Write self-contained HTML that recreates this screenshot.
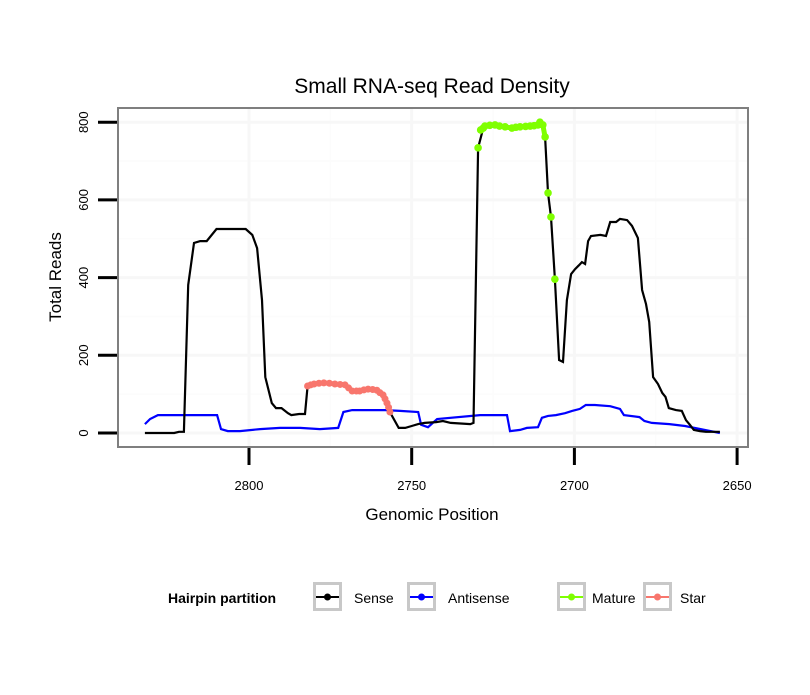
<!DOCTYPE html>
<html><head><meta charset="utf-8"><style>
body{margin:0;background:#fff;}
svg text{font-family:"Liberation Sans",sans-serif;}
</style></head><body>
<svg id="c" width="810" height="690" xmlns="http://www.w3.org/2000/svg">
<text x="432" y="93" font-size="21" text-anchor="middle">Small RNA-seq Read Density</text>
<text x="0" y="0" font-size="17" text-anchor="middle" transform="translate(61,277) rotate(-90)">Total Reads</text>
<text x="432" y="520" font-size="17" text-anchor="middle">Genomic Position</text>
<g id="grid"></g><g id="series"></g><g id="axes"></g>
<g>
<text x="168" y="603" font-size="14" font-weight="bold">Hairpin partition</text>
<g id="legend"></g>
</g>
</svg>
<script>
const senseX=[2832,2823,2821.5,2820,2818.7,2816.9,2815,2813,2810,2801,2799,2797.5,2796,2795,2793,2791.7,2790,2788,2787,2784.6,2782.8,2782,2780,2777,2773.6,2770.5,2768.3,2766,2763.4,2760.7,2758.8,2757.6,2756.7,2754,2752,2750,2748,2746,2742.5,2740.4,2738,2732,2731,2729.6,2728,2727.5,2724.4,2721.3,2719.2,2716.7,2713.6,2711.2,2710.6,2709.7,2709,2708.1,2707.2,2706,2704.7,2703.5,2702.3,2701,2699.8,2698.6,2697.7,2696.7,2695.8,2694.9,2692,2690.3,2689,2687.2,2686,2683.8,2682.3,2680.5,2679.2,2678,2677,2675.8,2674.3,2673,2672,2671,2668.8,2667,2665.7,2664.5,2663.3,2661.4,2659.6,2655.3];
const senseY=[0,0,3,3,381,489,494,494,525,525,510,476,342,144,77,64,64,51,46,49,49,121,126,129,126,124,108,108,113,110,98,77,54,13,13,18,23,26,28,31,26,23,26,734,785,790,793,788,785,788,790,793,800,793,762,618,556,396,188,183,342,409,422,432,440,435,494,507,510,507,543,543,551,548,533,502,368,332,286,144,126,103,93,64,59,57,33,21,8,5,3,3];
const antiX=[2832,2830.4,2828,2809.8,2808.6,2806.5,2802.8,2796.6,2790.5,2784.3,2778.2,2772.6,2771,2768.3,2764.4,2758.2,2753.6,2748,2747.1,2745,2742.2,2729,2720.7,2719.8,2716.7,2714.6,2711.2,2710,2708.1,2705.7,2702.9,2700.7,2698.3,2696.5,2693.7,2689,2686,2684.8,2680,2678.5,2676.2,2670.8,2666,2655.3];
const antiY=[23,36,46,46,10,5,5,10,13,13,10,13,54,59,59,59,57,54,21,15,36,46,46,5,8,13,15,39,44,46,51,57,62,72,72,69,62,46,41,31,26,23,18,0];
const matureX=[2729.6,2728.8,2728,2727.5,2726,2724.4,2723,2721.3,2719.2,2718,2716.7,2715,2713.6,2712.4,2711.2,2710.6,2709.7,2709,2708.1,2707.2,2706];
const matureY=[734,780,785,790,792,793,790,788,785,787,788,789,790,791,793,800,793,762,618,556,396];
const starX=[2782,2781,2780,2778.5,2777,2775.3,2773.6,2772,2770.5,2769.4,2768.3,2767,2766,2764.7,2763.4,2762,2760.7,2759.8,2758.8,2758.2,2757.6,2757.1,2756.7];
const starY=[121,124,126,128,129,128,126,125,124,116,108,108,108,111,113,112,110,104,98,88,77,66,54];
const yTicks=[0,200,400,600,800];
const yMinor=[100,300,500,700];
const xTicks=[2800,2750,2700,2650];
const xMinor=[2775,2725,2675];
const legendLabels=["Sense","Antisense","Mature","Star"];

const L=118,R=748,T=108,B=447;
const X=v=>249+(2800-v)*3.254;
const Y=v=>433-v*0.3885;
const NS="http://www.w3.org/2000/svg";
function mk(tag,attrs,parent){const e=document.createElementNS(NS,tag);for(const k in attrs)e.setAttribute(k,attrs[k]);parent.appendChild(e);return e;}
const grid=document.getElementById('grid'),axes=document.getElementById('axes'),ser=document.getElementById('series');
mk('rect',{x:L,y:T,width:R-L,height:B-T,fill:'#fff'},grid);
yMinor.forEach(v=>{const l=mk('line',{x1:L,x2:R,y1:Y(v),y2:Y(v),stroke:'#fcfcfc','stroke-width':1.5},grid);});
xMinor.forEach(v=>{const l=mk('line',{x1:X(v),x2:X(v),y1:T,y2:B,stroke:'#fcfcfc','stroke-width':1.5},grid);});
yTicks.forEach(v=>{const l=mk('line',{x1:L,x2:R,y1:Y(v),y2:Y(v),stroke:'#f7f7f7','stroke-width':3},grid);});
xTicks.forEach(v=>{const l=mk('line',{x1:X(v),x2:X(v),y1:T,y2:B,stroke:'#f7f7f7','stroke-width':3},grid);});
function path(xs,ys){return xs.map((x,i)=>(i?'L':'M')+X(x).toFixed(1)+','+Y(ys[i]).toFixed(1)).join('');}
let p=mk('path',{d:path(antiX,antiY),fill:'none',stroke:'#0000ff','stroke-width':2.2},ser);

p=mk('path',{d:path(senseX,senseY),fill:'none',stroke:'#000','stroke-width':2.2},ser);

p=mk('path',{d:path(starX,starY),fill:'none',stroke:'#f8766d','stroke-width':5,'stroke-linejoin':'round'},ser);

starX.forEach((x,i)=>{const c=mk('circle',{cx:X(x),cy:Y(starY[i]),r:3.5,fill:'#f8766d'},ser);});
p=mk('path',{d:path(matureX.slice(1,18),matureY.slice(1,18)),fill:'none',stroke:'#7fff00','stroke-width':5,'stroke-linejoin':'round'},ser);

matureX.forEach((x,i)=>{const c=mk('circle',{cx:X(x),cy:Y(matureY[i]),r:3.8,fill:'#7fff00'},ser);});
let b=mk('rect',{x:L,y:T,width:R-L,height:B-T,fill:'none',stroke:'#7f7f7f','stroke-width':2},axes);

yTicks.forEach(v=>{const t=mk('line',{x1:98,x2:117,y1:Y(v),y2:Y(v),stroke:'#000','stroke-width':3},axes);
const tx=mk('text',{x:0,y:0,'font-size':13,'text-anchor':'middle',transform:`translate(88,${Y(v)}) rotate(-90)`},axes);tx.textContent=v;});
xTicks.forEach(v=>{const t=mk('line',{x1:X(v),x2:X(v),y1:448,y2:465,stroke:'#000','stroke-width':3},axes);
const tx=mk('text',{x:X(v),y:490,'font-size':13,'text-anchor':'middle'},axes);tx.textContent=v;});
const lg=document.getElementById('legend');
const colors=['#000','#0000ff','#7fff00','#f8766d'],bx=[313,407,557,643],lx=[354,448,592,680];
legendLabels.forEach((s,i)=>{
const g=mk('g',{},lg);
mk('rect',{x:bx[i]+1.5,y:583.5,width:26,height:26,fill:'#fff',stroke:'#c8c8c8','stroke-width':3},g);
mk('line',{x1:bx[i]+3,x2:bx[i]+26,y1:597,y2:597,stroke:colors[i],'stroke-width':2},g);
mk('circle',{cx:bx[i]+14.5,cy:597,r:3.5,fill:colors[i]},g);
const t=mk('text',{x:lx[i],y:603,'font-size':14},g);t.textContent=s;});
</script>
</body></html>
